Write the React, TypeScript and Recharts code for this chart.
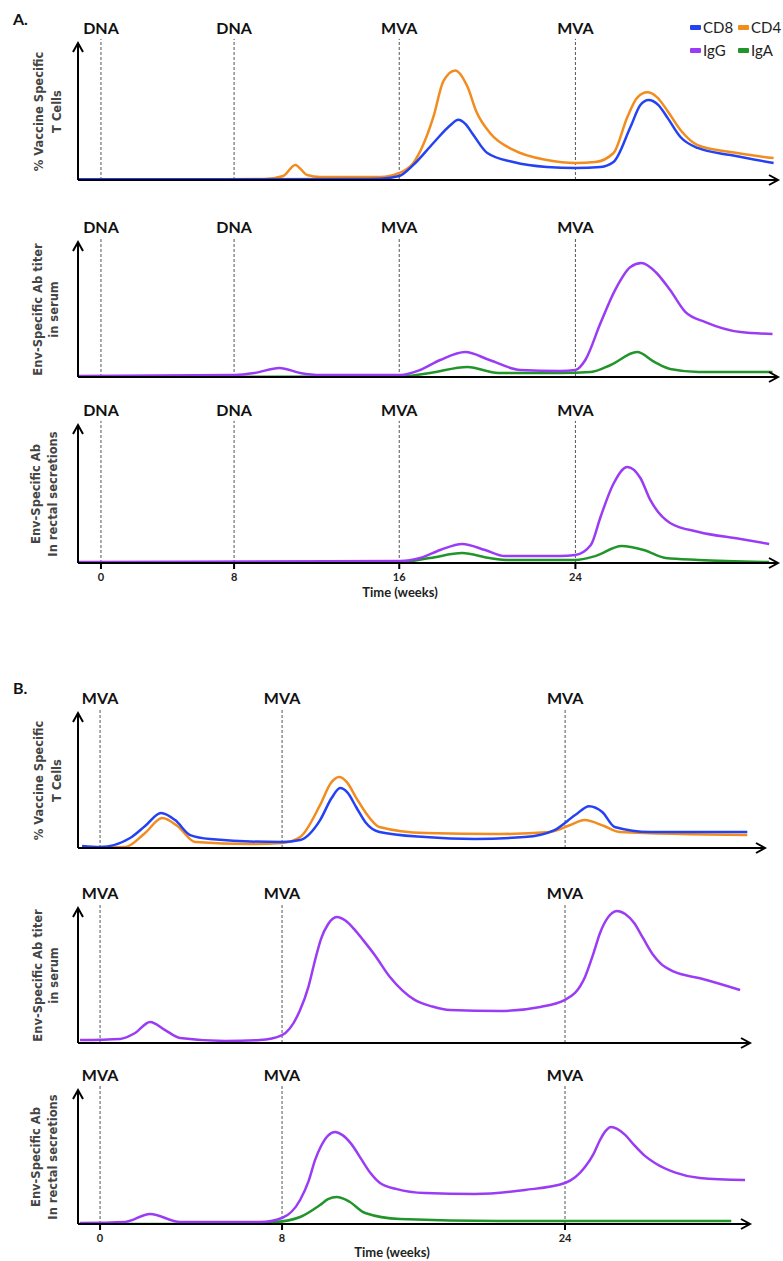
import React from 'react';
import { LineChart, Line, XAxis, YAxis, ReferenceLine, ReferenceDot, Legend } from 'recharts';

type Pt = [number, number];

// ---------- colours ----------
const COLORS: Record<string, string> = {
  CD8: '#2442f2',
  CD4: '#f28c1e',
  IgG: '#9a3cf5',
  IgA: '#22952a',
};
const LEGEND_ITEMS = ['CD8', 'CD4', 'IgG', 'IgA'];

// ---------- schematic time axes (weeks) ----------
const A_TICK_WEEKS = [0, 8, 16, 24];
const A_TICK_LABELS = ['0', '8', '16', '24'];
const A_VACCINES = ['DNA', 'DNA', 'MVA', 'MVA'];
const A_STRETCH = [0, 133, 298, 474]; // the schematic axis is not drawn to scale
const B_TICK_WEEKS = [0, 8, 24];
const B_TICK_LABELS = ['0', '8', '24'];
const B_VACCINES = ['MVA', 'MVA', 'MVA'];
const B_STRETCH = [0, 182, 465];

// ---------- series (week, relative level 0-100) ----------
const A1_CD8: Pt[] = [[-1.32,0.5],[14,0.7],[15.1,1],[16,2.9],[16.64,11],[17.55,27],[18.32,40],[18.68,44],[19.0,41],[19.36,33],[20.0,19.7],[21.18,13.1],[22.7,9.5],[24,8.8],[25.14,9.5],[25.73,13.1],[26.5,38.7],[26.95,54.7],[27.32,58.4],[27.77,54.7],[28.2,45],[28.77,31.4],[29.55,23.4],[31.05,18.2],[33,12.4]];
const A1_CD4: Pt[] = [[-1.32,0.5],[9.5,0.7],[10.38,2.9],[10.96,11],[11.54,3.6],[12.17,2.2],[15.08,2.2],[16,5.1],[16.64,12.4],[17.55,46],[18.0,72],[18.54,80],[19.1,68],[19.5,50],[20.14,34],[21.18,22],[22.7,14.6],[24,12.4],[24.9,13.1],[25.73,19.7],[26.36,46],[26.8,60],[27.27,64],[27.7,60.5],[28.2,50],[28.77,36.5],[29.55,25.5],[31.05,20.4],[33,16]];
const A2_IGG: Pt[] = [[-1.32,0.7],[8.05,1.5],[9.0,3],[10.2,6.7],[11.2,3],[12.2,1.5],[16.05,1.5],[16.95,5.2],[17.86,12.6],[19.0,18.5],[20.1,12.6],[21.5,5.2],[23.3,4.4],[24,5.2],[24.45,12.6],[25.14,40],[25.8,64.4],[26.5,81.5],[27,84.4],[27.64,77.8],[28.3,64.4],[29,48],[29.9,40.7],[31.5,33.3],[32.95,31.9]];
const A2_IGA: Pt[] = [[-1.32,0],[16.05,0.3],[17.4,3],[19.1,7.4],[20.5,3],[23.3,3],[24.7,3.7],[25.6,8.9],[26.8,18.5],[27.6,11],[28.3,5.9],[29.6,3.7],[32.95,3.7]];
const A3_IGG: Pt[] = [[-1.32,0.7],[16.05,1.4],[16.95,3.6],[17.86,9.4],[18.86,13.8],[19.9,9.4],[20.8,5],[23.3,5],[24,5.8],[24.7,13],[25.14,33.3],[25.7,56.5],[26.36,69.6],[26.95,61.6],[27.4,45.7],[28.3,29],[29.6,22.5],[31.5,17.4],[32.8,13.8]];
const A3_IGA: Pt[] = [[-1.32,0],[16.05,0.7],[17.4,3.6],[18.86,7.2],[20.1,3.6],[21,2.2],[24,2.2],[24.9,5],[26.1,12.3],[27.1,9.4],[28.1,3.6],[29.6,2.2],[32.8,0.7]];
const B1_CD8: Pt[] = [[-0.79,1.5],[0,0.7],[1.32,7.4],[1.98,16.3],[2.68,26],[3.3,20.7],[3.96,9.6],[4.84,6.7],[8,4.4],[9.02,5.9],[10.15,20.7],[10.8,37],[11.28,44.4],[11.7,41],[12.2,30],[12.7,19.3],[13.5,11.9],[16.1,8.1],[18.9,6.7],[21.7,8.1],[23.4,13.3],[24.57,24.4],[25.36,31],[26.1,26.7],[26.8,15.6],[28.8,11.9],[34.3,11.9]];
const B1_CD4: Pt[] = [[-0.79,0],[1.1,0.7],[1.98,11.1],[2.73,22.2],[3.4,16.3],[4.18,4.4],[6.6,3],[8,3.7],[9.02,8.1],[10.15,31.9],[10.75,48],[11.22,52.6],[11.65,49],[12.2,37],[12.7,26.7],[13.5,15.6],[16.1,11.1],[20.3,10.4],[23.15,11.9],[24.3,17],[25.1,20.7],[26.2,16.3],[27.1,11.9],[34.3,9.6]];
const B2_IGG: Pt[] = [[-0.88,2.2],[0.88,3],[1.54,7.4],[2.2,15.6],[2.86,9.6],[3.52,3.7],[5.5,1.5],[7.03,2.2],[8,5.9],[9.02,24.4],[9.5,42],[9.87,61.5],[10.2,77],[10.6,88],[11.1,93.3],[11.6,90.5],[12.1,84],[12.6,76],[13.25,65],[14.1,48.9],[14.8,39],[15.5,31.9],[16.5,27],[17.5,24.4],[20.3,23.7],[22.6,26.7],[24,31.9],[25.13,48.9],[25.6,66],[25.98,81.5],[26.4,92.5],[26.94,97.8],[27.4,95.5],[27.9,89],[28.4,78],[29.0,65],[29.4,59],[30.2,52.6],[31.63,48],[33.9,39.3]];
const B3_IGG: Pt[] = [[-0.88,0.7],[1.1,1.5],[2.2,7.5],[3.52,1.5],[7.03,1.5],[8,4.5],[9.02,17.9],[9.5,32],[9.87,47.8],[10.2,58],[10.6,66],[11.0,68.7],[11.4,66.5],[11.9,60],[12.5,48],[13.0,38],[13.54,30.6],[14.5,26],[16.08,23.1],[18.9,22.4],[21.74,25.4],[24,30.6],[25.13,42.5],[25.6,52],[25.98,62.7],[26.3,69.5],[26.6,72.4],[26.95,71],[27.4,66.5],[27.9,59],[28.5,51],[29.08,45.5],[30.2,38.5],[31.63,34.3],[34.18,32.8]];
const B3_IGA: Pt[] = [[-1.0,0],[4.4,0],[7.7,1.5],[9.02,5.2],[10.15,14.2],[10.6,18.5],[11.1,20.1],[11.5,18.8],[11.84,16.4],[12.7,8.2],[14.67,3.7],[20.3,2.2],[33.4,2.2]];

const Y_TCELL = ['% Vaccine Specific', 'T Cells'];
const Y_SERUM = ['Env-Specific Ab titer', 'in serum'];
const Y_RECTAL = ['Env-Specific Ab', 'In rectal secretions'];

// ---------- helpers ----------
const W = 783;
const AXIS_X = 78;

function makeWarp(weeks: number[], stretch: number[]) {
  return (w: number) => {
    const n = weeks.length;
    let i = 0;
    if (w >= weeks[n - 1]) i = n - 2;
    else if (w > weeks[0]) {
      while (w > weeks[i + 1]) i++;
    }
    const t = (w - weeks[i]) / (weeks[i + 1] - weeks[i]);
    return stretch[i] + t * (stretch[i + 1] - stretch[i]);
  };
}
const warpA = makeWarp(A_TICK_WEEKS, A_STRETCH);
const warpB = makeWarp(B_TICK_WEEKS, B_STRETCH);

type Series = { name: string; pts: Pt[] };

interface PanelProps {
  top: number;
  height: number;
  plotTop: number;
  plotBottom: number;
  xh: number;
  right: number;
  warp: (w: number) => number;
  range: [number, number];
  vacWeeks: number[];
  vacNames: string[];
  series: Series[];
  yLines: string[];
  yLineX: [number, number];
  ticks?: { weeks: number[]; labels: string[]; dx: number };
  legend?: boolean;
}

function LegendBox() {
  return (
    <div
      style={{
        display: 'grid',
        gridTemplateColumns: '48px 48px',
        rowGap: 5,
        fontFamily: 'Lato, sans-serif',
        fontSize: 15,
        color: '#222',
      }}
    >
      {LEGEND_ITEMS.map((n) => (
        <div key={n} style={{ display: 'flex', alignItems: 'center', height: 18, whiteSpace: 'nowrap' }}>
          <span style={{ display: 'inline-block', width: 11, height: 5, background: COLORS[n], borderRadius: 1, marginRight: 2 }} />
          {n}
        </div>
      ))}
    </div>
  );
}

function Panel(p: PanelProps) {
  const x0 = p.warp(p.range[0]);
  const x1 = p.warp(p.range[1]);
  const margin = {
    top: p.plotTop - p.top,
    right: p.right,
    bottom: p.top + p.height - p.plotBottom - p.xh,
    left: 0,
  };
  const tickVals = p.ticks ? p.ticks.weeks.map(p.warp) : undefined;
  const fmt = (v: number) => {
    if (!p.ticks) return '';
    const i = tickVals!.findIndex((t) => Math.abs(t - v) < 1e-6);
    return i >= 0 ? p.ticks.labels[i] : '';
  };
  const yLabel = (lp: any) => {
    const vb = lp.viewBox || {};
    const cy = vb.y + vb.height / 2;
    return (
      <g>
        {p.yLines.map((t, i) => {
          const lx = p.yLineX[i];
          return (
            <text
              key={i}
              x={lx}
              y={cy}
              transform={`rotate(-90 ${lx} ${cy})`}
              textAnchor="middle"
              dominantBaseline="central"
              style={{ fontFamily: '"DejaVu Sans", Verdana, sans-serif', fontWeight: 700, fontSize: 11.5 }}
              fill="#444"
            >
              {t}
            </text>
          );
        })}
      </g>
    );
  };
  return (
    <div style={{ position: 'absolute', left: 0, top: p.top, width: W, height: p.height }}>
      <LineChart width={W} height={p.height} margin={margin}>
        <XAxis
          type="number"
          dataKey="x"
          domain={[x0, x1]}
          allowDataOverflow
          height={p.xh}
          axisLine={{ stroke: '#000', strokeWidth: 2 }}
          ticks={tickVals}
          interval={0}
          tick={p.ticks ? { fill: '#222', fontSize: 11, fontWeight: 700, fontFamily: 'Lato, sans-serif' } : false}
          tickLine={p.ticks ? { stroke: '#000', strokeWidth: 2 } : false}
          tickSize={6}
          tickMargin={4}
          tickFormatter={fmt}
          label={
            p.ticks
              ? {
                  value: 'Time (weeks)',
                  position: 'insideBottom',
                  offset: 0,
                  dx: p.ticks.dx,
                  fill: '#222',
                  fontSize: 13,
                  fontWeight: 700,
                  fontFamily: 'Lato, sans-serif',
                }
              : undefined
          }
        />
        <YAxis
          type="number"
          domain={[0, 100]}
          allowDataOverflow
          width={AXIS_X}
          tick={false}
          tickLine={false}
          axisLine={{ stroke: '#000', strokeWidth: 2 }}
          label={{ content: yLabel }}
        />
        {p.vacWeeks.map((w, i) => (
          <ReferenceLine
            key={'v' + i}
            segment={[
              { x: p.warp(w), y: 0 },
              { x: p.warp(w), y: 103 },
            ]}
            ifOverflow="visible"
            stroke="#555"
            strokeWidth={1}
            strokeDasharray="3 2"
            label={{
              value: p.vacNames[i],
              position: 'top',
              offset: 5,
              fill: '#111',
              fontSize: 16,
              fontWeight: 700,
              fontFamily: 'Lato, sans-serif',
            }}
          />
        ))}
        {p.series.map((s) => (
          <Line
            key={s.name}
            data={s.pts.map(([w, v]) => ({ x: p.warp(w), v }))}
            dataKey="v"
            type="monotone"
            stroke={COLORS[s.name]}
            strokeWidth={2.5}
            dot={false}
            activeDot={false}
            isAnimationActive={false}
          />
        ))}
        <ReferenceDot
          x={x1}
          y={0}
          r={0}
          ifOverflow="visible"
          shape={(sp: any) => (
            <path
              d={`M${sp.cx - 9} ${sp.cy - 5} L${sp.cx} ${sp.cy} L${sp.cx - 9} ${sp.cy + 5}`}
              fill="none"
              stroke="#000"
              strokeWidth={2}
            />
          )}
        />
        <ReferenceDot
          x={x0}
          y={100}
          r={0}
          ifOverflow="visible"
          shape={(sp: any) => (
            <path
              d={`M${sp.cx - 5} ${sp.cy + 9} L${sp.cx} ${sp.cy} L${sp.cx + 5} ${sp.cy + 9}`}
              fill="none"
              stroke="#000"
              strokeWidth={2}
            />
          )}
        />
        {p.legend && (
          <Legend
            layout="vertical"
            align="center"
            verticalAlign="middle"
            wrapperStyle={{ top: 18, left: 690, width: 110 }}
            content={() => <LegendBox />}
          />
        )}
      </LineChart>
    </div>
  );
}

const panelLetter: React.CSSProperties = {
  position: 'absolute',
  left: 13,
  fontFamily: 'Lato, sans-serif',
  fontWeight: 700,
  fontSize: 16,
  color: '#111',
  lineHeight: '18px',
};

export default function App() {
  return (
    <div style={{ position: 'absolute', left: 0, top: 0, width: W, height: 1261, overflow: 'hidden', background: '#fff' }}>
      <div style={{ ...panelLetter, top: 10 }}>A.</div>
      <div style={{ ...panelLetter, top: 679 }}>B.</div>

      <Panel
        top={0} height={195} plotTop={43} plotBottom={180} xh={1} right={5}
        warp={warpA} range={[-1.38, 33.2]}
        vacWeeks={A_TICK_WEEKS} vacNames={A_VACCINES}
        series={[{ name: 'CD4', pts: A1_CD4 }, { name: 'CD8', pts: A1_CD8 }]}
        yLines={Y_TCELL} yLineX={[39, 57]}
        legend
      />
      <Panel
        top={200} height={190} plotTop={242} plotBottom={377} xh={1} right={5}
        warp={warpA} range={[-1.38, 33.2]}
        vacWeeks={A_TICK_WEEKS} vacNames={A_VACCINES}
        series={[{ name: 'IgA', pts: A2_IGA }, { name: 'IgG', pts: A2_IGG }]}
        yLines={Y_SERUM} yLineX={[38, 54]}
      />
      <Panel
        top={395} height={210} plotTop={425} plotBottom={563} xh={34} right={5}
        warp={warpA} range={[-1.38, 33.2]}
        vacWeeks={A_TICK_WEEKS} vacNames={A_VACCINES}
        series={[{ name: 'IgA', pts: A3_IGA }, { name: 'IgG', pts: A3_IGG }]}
        yLines={Y_RECTAL} yLineX={[36, 53]}
        ticks={{ weeks: A_TICK_WEEKS, labels: A_TICK_LABELS, dx: -28 }}
      />

      <Panel
        top={670} height={190} plotTop={713} plotBottom={848} xh={1} right={18}
        warp={warpB} range={[-0.97, 35.3]}
        vacWeeks={B_TICK_WEEKS} vacNames={B_VACCINES}
        series={[{ name: 'CD4', pts: B1_CD4 }, { name: 'CD8', pts: B1_CD8 }]}
        yLines={Y_TCELL} yLineX={[39, 57]}
      />
      <Panel
        top={865} height={190} plotTop={908} plotBottom={1043} xh={1} right={33}
        warp={warpB} range={[-0.97, 34.46]}
        vacWeeks={B_TICK_WEEKS} vacNames={B_VACCINES}
        series={[{ name: 'IgG', pts: B2_IGG }]}
        yLines={Y_SERUM} yLineX={[38, 54]}
      />
      <Panel
        top={1055} height={206} plotTop={1090} plotBottom={1224} xh={33} right={33}
        warp={warpB} range={[-0.97, 34.46]}
        vacWeeks={B_TICK_WEEKS} vacNames={B_VACCINES}
        series={[{ name: 'IgA', pts: B3_IGA }, { name: 'IgG', pts: B3_IGG }]}
        yLines={Y_RECTAL} yLineX={[36, 53]}
        ticks={{ weeks: B_TICK_WEEKS, labels: B_TICK_LABELS, dx: -22 }}
      />
    </div>
  );
}
